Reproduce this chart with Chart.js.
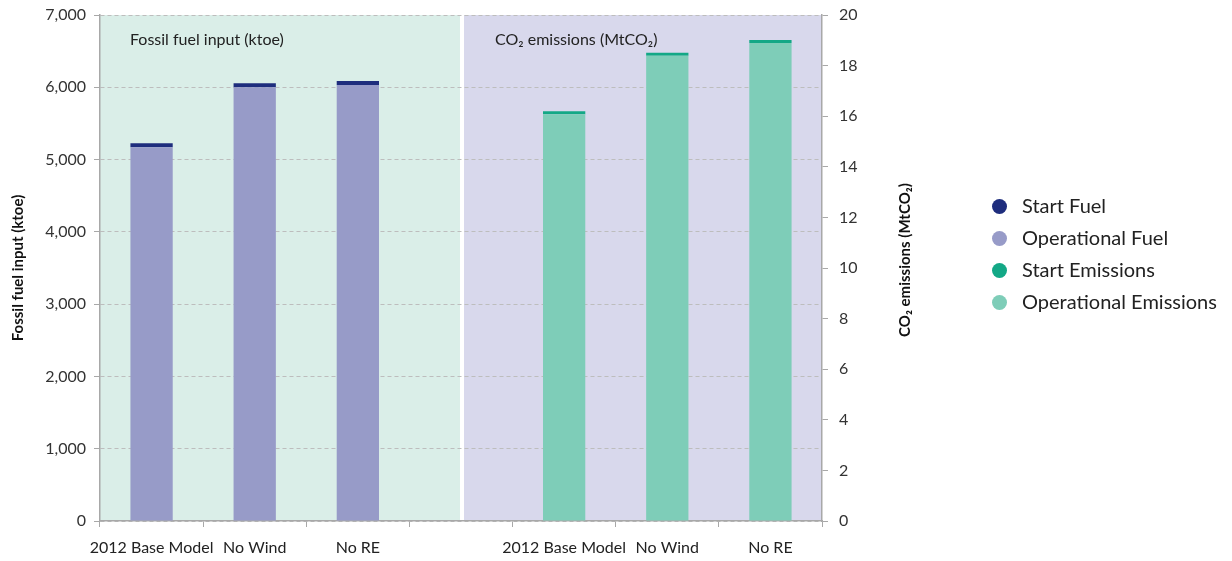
<!DOCTYPE html>
<html>
<head>
<meta charset="utf-8">
<script src="https://cdn.jsdelivr.net/npm/chart.js@4"></script>
<style>
  body { margin: 0; background: #fff; font-family: Lato, sans-serif; }
  #wrap { position: relative; width: 1232px; height: 561px; }
  #legend { position: absolute; left: 992px; top: 190px; font-size: 20px; color: #222; }
  #legend div { height: 32px; line-height: 30px; white-space: nowrap; }
  #legend span { display: inline-block; width: 15px; height: 15px; border-radius: 8px; margin-right: 15px; vertical-align: -1px; }
</style>
</head>
<body>
<div id="wrap">
  <canvas id="chart" width="1232" height="561"></canvas>
  <div id="legend"></div>
</div>
<script>
// categories (4th one is the empty spacer between the two panels)
const categories = ['2012 Base Model', 'No Wind', 'No RE', '', '2012 Base Model', 'No Wind', 'No RE'];

// fossil fuel input, ktoe (left axis)
const operationalFuel = [5170, 6000, 6030, null, null, null, null];
const startFuel = [55, 55, 57, null, null, null, null];

// CO2 emissions, MtCO2 (right axis)
const operationalEmissions = [null, null, null, null, 16.08, 18.39, 18.89];
const startEmissions = [null, null, null, null, 0.12, 0.12, 0.12];

const panelTitles = ['Fossil fuel input (ktoe)', 'CO\u2082 emissions (MtCO\u2082)'];
const rightTitle = 'CO\u2082 emissions (MtCO\u2082)';

const colors = {
    startFuel: '#1e2d7d',
    opFuel: '#979bc8',
    startEm: '#13a886',
    opEm: '#7ecdb8',
    panelLeft: '#daeee8',
    panelRight: '#d8d8ec'
};

const font = 'Lato, sans-serif';

// paints the two shaded panels + their titles behind everything,
// and the right axis title (reads bottom-to-top like the left one)
const panels = {
    id: 'panels',
    beforeDraw(chart) {
        const ctx = chart.ctx;
        const a = chart.chartArea;
        const mid = chart.scales.x.getPixelForValue(3);
        ctx.save();
        ctx.fillStyle = colors.panelLeft;
        ctx.fillRect(a.left, a.top, mid - 1 - a.left, a.bottom - a.top);
        ctx.fillStyle = colors.panelRight;
        ctx.fillRect(mid + 3, a.top, a.right - mid - 3, a.bottom - a.top);
        ctx.fillStyle = '#222';
        ctx.font = '16px ' + font;
        ctx.textBaseline = 'middle';
        ctx.fillText(panelTitles[0], a.left + 30, a.top + 25);
        ctx.fillText(panelTitles[1], mid + 34, a.top + 25);
        ctx.restore();
    },
    afterDraw(chart) {
        const ctx = chart.ctx;
        const a = chart.chartArea;
        ctx.save();
        ctx.translate(a.right + 83, (a.top + a.bottom) / 2 - 8);
        ctx.rotate(-Math.PI / 2);
        ctx.font = 'bold 15px ' + font;
        ctx.fillStyle = '#111';
        ctx.textAlign = 'center';
        ctx.textBaseline = 'middle';
        ctx.fillText(rightTitle, 0, 0);
        ctx.restore();
    }
};

const chart = new Chart(document.getElementById('chart'), {
    type: 'bar',
    data: {
        labels: categories,
        datasets: [
            {label: 'Operational Fuel', data: operationalFuel, backgroundColor: colors.opFuel, yAxisID: 'y', stack: 's'},
            {label: 'Start Fuel', data: startFuel, backgroundColor: colors.startFuel, yAxisID: 'y', stack: 's'},
            {label: 'Operational Emissions', data: operationalEmissions, backgroundColor: colors.opEm, yAxisID: 'y1', stack: 's'},
            {label: 'Start Emissions', data: startEmissions, backgroundColor: colors.startEm, yAxisID: 'y1', stack: 's'}
        ]
    },
    options: {
        responsive: false,
        animation: false,
        layout: {padding: {top: 15, right: 318, left: 0, bottom: 0}},
        datasets: {bar: {barPercentage: 0.41, categoryPercentage: 1}},
        plugins: {legend: {display: false}, tooltip: {enabled: false}},
        scales: {
            x: {
                stacked: true,
                afterFit(s) { s.height = 40; },
                border: {color: '#a8a8a8', width: 1.5},
                grid: {drawOnChartArea: false, tickLength: 6, color: '#a8a8a8'},
                ticks: {color: '#222', font: {family: font, size: 16}, padding: 11, maxRotation: 0, autoSkip: false}
            },
            y: {
                stacked: true,
                position: 'left',
                min: 0, max: 7000,
                afterFit(s) { s.width = 100; s.paddingTop = 0; s.paddingBottom = 0; },
                border: {color: '#a8a8a8', width: 1.5, dash: [4, 3]},
                grid: {color: '#bdbdbd', tickLength: 6, tickColor: '#a8a8a8', tickBorderDash: []},
                ticks: {stepSize: 1000, color: '#333', font: {family: font, size: 16}, padding: 8,
                    callback: v => v.toLocaleString('en-US')},
                title: {display: true, text: 'Fossil fuel input (ktoe)', color: '#111',
                    font: {family: font, size: 15, weight: 'bold'}, padding: {top: 9, bottom: 2}}
            },
            y1: {
                stacked: true,
                position: 'right',
                min: 0, max: 20,
                afterFit(s) { s.width = 92; s.paddingTop = 0; s.paddingBottom = 0; },
                border: {color: '#a8a8a8', width: 1.5},
                grid: {drawOnChartArea: false, tickLength: 6, color: '#a8a8a8'},
                ticks: {stepSize: 2, color: '#333', font: {family: font, size: 16}, padding: 11}
            }
        }
    },
    plugins: [panels]
});

// legend on the right
const legendItems = [
    ['Start Fuel', colors.startFuel],
    ['Operational Fuel', colors.opFuel],
    ['Start Emissions', colors.startEm],
    ['Operational Emissions', colors.opEm]
];
document.getElementById('legend').innerHTML = legendItems
    .map(it => '<div><span style="background:' + it[1] + '"></span>' + it[0] + '</div>').join('');
</script>
</body>
</html>
